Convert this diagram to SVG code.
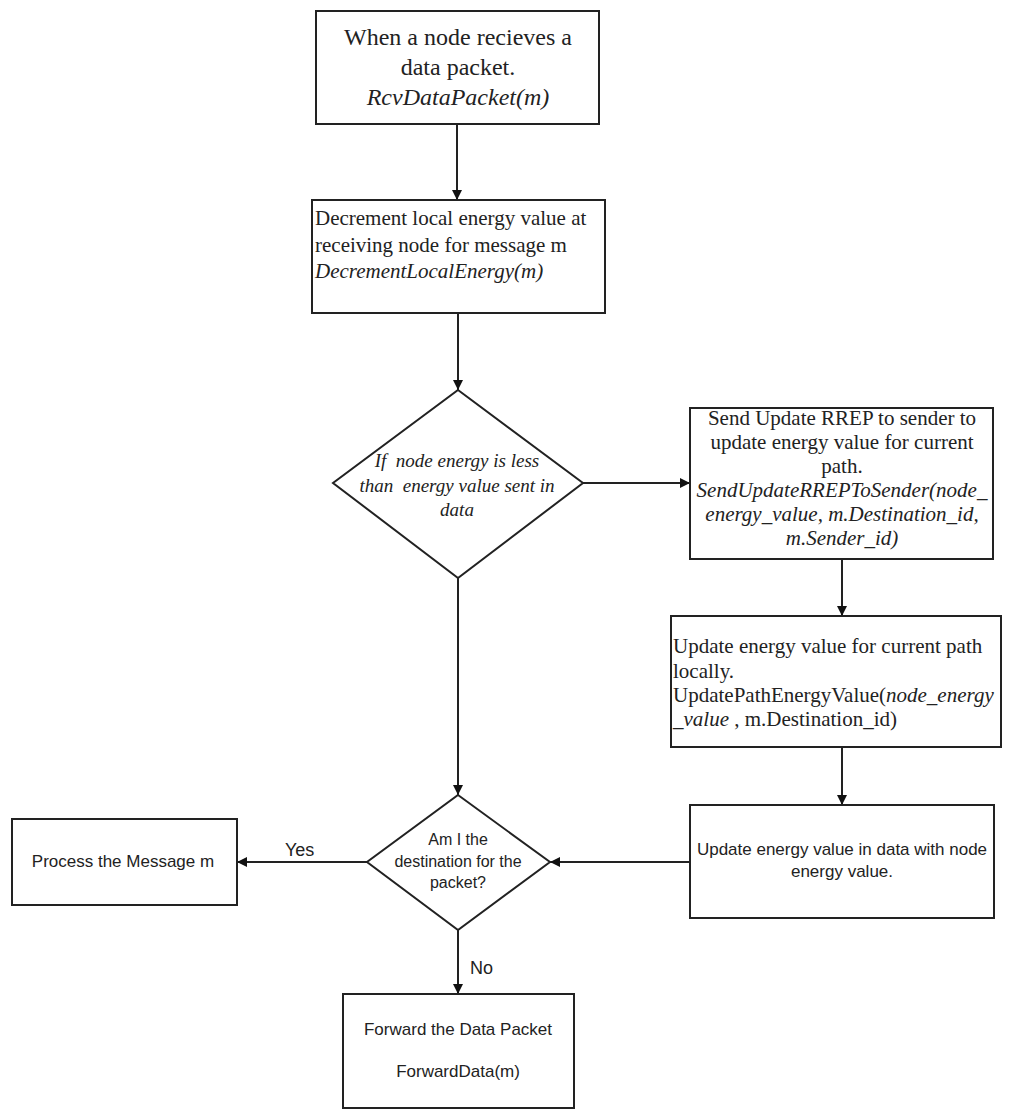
<svg xmlns="http://www.w3.org/2000/svg" width="1024" height="1119" viewBox="0 0 1024 1119">
<defs>
<marker id="ah" viewBox="0 0 10 10" refX="10" refY="5" markerWidth="10" markerHeight="10" markerUnits="userSpaceOnUse" orient="auto">
<path d="M0,0 L10,5 L0,10 z" fill="#111"/>
</marker>
<style>
.box{fill:#fff;stroke:#222;stroke-width:2}
.con{fill:none;stroke:#222;stroke-width:2;marker-end:url(#ah)}
.tr{font-family:"Liberation Serif","Times New Roman",serif;fill:#222}
.ar{font-family:"Liberation Sans",Arial,sans-serif;fill:#222}
.it{font-style:italic}
</style>
</defs>
<rect width="1024" height="1119" fill="#fff"/>
<g id="connectors">
<line class="con" x1="457" y1="124" x2="457" y2="200"/>
<line class="con" x1="458" y1="313" x2="458" y2="390"/>
<line class="con" x1="583" y1="483" x2="690" y2="483"/>
<line class="con" x1="842" y1="559" x2="842" y2="616"/>
<line class="con" x1="842" y1="747" x2="842" y2="805"/>
<line class="con" x1="690" y1="862" x2="550" y2="862"/>
<line class="con" x1="458" y1="578" x2="458" y2="795"/>
<line class="con" x1="367" y1="862" x2="237" y2="862"/>
<line class="con" x1="458" y1="930" x2="458" y2="994"/>
<text class="ar" x="285" y="856" font-size="18">Yes</text>
<text class="ar" x="470" y="974" font-size="18">No</text>
</g>
<g id="start">
<rect class="box" x="316" y="11" width="283" height="113"/>
<text class="tr" text-anchor="middle" font-size="24"><tspan x="458" y="45">When a node recieves a</tspan><tspan x="458" y="75">data packet.</tspan><tspan class="it" x="458" y="105">RcvDataPacket(m)</tspan></text>
</g>
<g id="decrement">
<rect class="box" x="312" y="200" width="293" height="113"/>
<text class="tr" font-size="21"><tspan x="315" y="225">Decrement local energy value at</tspan><tspan x="315" y="252">receiving node for message m</tspan><tspan class="it" x="315" y="278">DecrementLocalEnergy(m)</tspan></text>
</g>
<g id="energyCheck">
<polygon class="box" points="458,390 583,483 458,578 333,483"/>
<text class="tr it" text-anchor="middle" font-size="19" xml:space="preserve"><tspan x="457" y="467">If  node energy is less</tspan><tspan x="457" y="492">than  energy value sent in</tspan><tspan x="457" y="516">data</tspan></text>
</g>
<g id="sendUpdate">
<rect class="box" x="690" y="408" width="303" height="151"/>
<text class="tr" text-anchor="middle" font-size="21"><tspan x="842" y="425">Send Update RREP to sender to</tspan><tspan x="842" y="449">update energy value for current</tspan><tspan x="842" y="473">path.</tspan><tspan class="it" x="842" y="497">SendUpdateRREPToSender(node_</tspan><tspan class="it" x="842" y="521">energy_value, m.Destination_id,</tspan><tspan class="it" x="842" y="545">m.Sender_id)</tspan></text>
</g>
<g id="updateLocal">
<rect class="box" x="671" y="616" width="330" height="131"/>
<text class="tr" font-size="21"><tspan x="673" y="653">Update energy value for current path</tspan><tspan x="673" y="678">locally.</tspan><tspan x="673" y="702">UpdatePathEnergyValue(<tspan class="it">node_energy</tspan></tspan><tspan x="673" y="726"><tspan class="it">_value</tspan> , m.Destination_id)</tspan></text>
</g>
<g id="updateData">
<rect class="box" x="690" y="805" width="304" height="113"/>
<text class="ar" text-anchor="middle" font-size="17"><tspan x="842" y="855">Update energy value in data with node</tspan><tspan x="842" y="877">energy value.</tspan></text>
</g>
<g id="destCheck">
<polygon class="box" points="458,795 550,862 458,930 367,862"/>
<text class="ar" text-anchor="middle" font-size="16"><tspan x="458" y="845">Am I the</tspan><tspan x="458" y="867">destination for the</tspan><tspan x="458" y="888">packet?</tspan></text>
</g>
<g id="process">
<rect class="box" x="12" y="819" width="225" height="86"/>
<text class="ar" text-anchor="middle" font-size="17" x="123" y="867">Process the Message m</text>
</g>
<g id="forward">
<rect class="box" x="343" y="994" width="231" height="114"/>
<text class="ar" text-anchor="middle" font-size="17"><tspan x="458" y="1035">Forward the Data Packet</tspan><tspan x="458" y="1077">ForwardData(m)</tspan></text>
</g>
</svg>
